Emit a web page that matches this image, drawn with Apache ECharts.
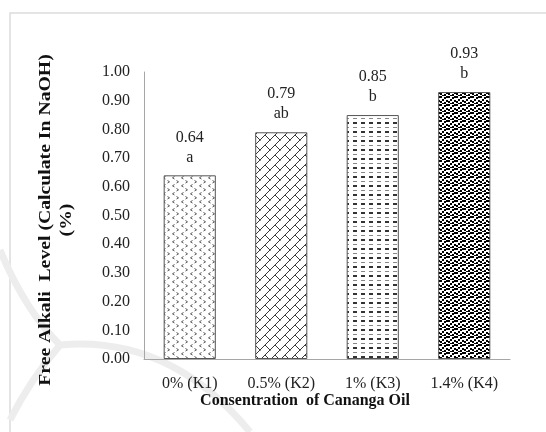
<!DOCTYPE html>
<html>
<head>
<meta charset="utf-8">
<script src="https://cdn.jsdelivr.net/npm/echarts@6/dist/echarts.min.js"></script>
<style>
  html, body { margin: 0; padding: 0; background: #fff; }
  #chart { width: 546px; height: 432px; }
</style>
</head>
<body>
<div id="chart"></div>
<script>
// Free alkali level per Cananga oil concentration
const categories = ['0% (K1)', '0.5% (K2)', '1% (K3)', '1.4% (K4)'];
const values = [0.64, 0.79, 0.85, 0.93];
const letters = ['a', 'ab', 'b', 'b'];
const yTicks = [0, 0.1, 0.2, 0.3, 0.4, 0.5, 0.6, 0.7, 0.8, 0.9, 1.0];

const SERIF = 'Liberation Serif';

// ---- hatch fills for the four bars ----
function tile(w, h, draw) {
  const c = document.createElement('canvas');
  c.width = w; c.height = h;
  const g = c.getContext('2d');
  g.fillStyle = '#fff';
  g.fillRect(0, 0, w, h);
  draw(g);
  return { image: c, repeat: 'repeat' };
}

// small chevrons "<" and ">"
const chevrons = tile(9, 8, g => {
  g.strokeStyle = '#444';
  g.lineWidth = 0.9;
  g.beginPath();
  g.moveTo(3.5, 0.5); g.lineTo(1.5, 1.8); g.lineTo(3.5, 3.0);
  g.moveTo(5.5, 4.5); g.lineTo(7.5, 5.8); g.lineTo(5.5, 7.0);
  g.stroke();
});

// diagonal brick
const brick = tile(10, 10, g => {
  g.strokeStyle = '#222';
  g.lineWidth = 0.9;
  g.beginPath();
  g.moveTo(-1, 11); g.lineTo(11, -1);
  g.moveTo(5, 5); g.lineTo(10.5, 10.5);
  g.moveTo(-0.5, -0.5); g.lineTo(0.5, 0.5);
  g.stroke();
});

// horizontal dashes, alternating heavy and light rows
const dashes = tile(8, 9, g => {
  g.fillStyle = '#888';
  g.fillRect(1, 1, 4, 1);
  g.fillStyle = '#333';
  g.fillRect(1, 5, 4, 2);
});

// dense dots
const dots = tile(8, 8, g => {
  g.fillStyle = '#000';
  const pts = [[0,0],[4,1],[2,3],[6,4],[0,5],[4,6],[6,0],[2,7]];
  pts.forEach(p => g.fillRect(p[0], p[1], 2, 2));
});

const fills = [chevrons, brick, dashes, dots];

const chart = echarts.init(document.getElementById('chart'), null, { renderer: 'canvas' });

chart.setOption({
  animation: false,
  backgroundColor: '#fff',
  grid: { left: 144, right: 36, top: 72, bottom: 73, containLabel: false },
  xAxis: {
    type: 'category',
    data: categories,
    axisLine: { lineStyle: { color: '#a6a6a6', width: 1 } },
    axisTick: { show: false },
    axisLabel: { fontFamily: SERIF, fontSize: 16, color: '#222', margin: 17 }
  },
  yAxis: {
    type: 'value',
    min: 0, max: 1, interval: 0.1,
    axisLine: { show: true, lineStyle: { color: '#a6a6a6', width: 1 } },
    axisTick: { show: false },
    splitLine: { show: false },
    axisLabel: {
      fontFamily: SERIF, fontSize: 16, color: '#222', margin: 14,
      formatter: v => {
        const t = yTicks.find(x => Math.abs(x - v) < 1e-9);
        return (t !== undefined ? t : v).toFixed(2);
      }
    }
  },
  series: [{
    type: 'bar',
    barWidth: '57%',
    data: values.map((v, i) => ({
      value: v,
      itemStyle: { color: fills[i], borderColor: '#555', borderWidth: 1 },
      label: {
        show: true,
        position: 'top',
        distance: 8,
        fontFamily: SERIF,
        fontSize: 16,
        lineHeight: 20,
        color: '#222',
        formatter: () => v.toFixed(2) + '\n' + letters[i]
      }
    }))
  }],
  graphic: [
    // faint frame
    { type: 'polyline', silent: true, z: -10,
      shape: { points: [[10, 432], [10, 13], [546, 13]] },
      style: { stroke: '#dcdcdc', lineWidth: 1.5, fill: null } },
    // faint background arcs
    { type: 'bezierCurve', silent: true, z: -10,
      shape: { x1: 0, y1: 250, cpx1: 25, cpy1: 310, x2: 60, y2: 345 },
      style: { stroke: '#ededed', lineWidth: 7, fill: null } },
    { type: 'bezierCurve', silent: true, z: -10,
      shape: { x1: 60, y1: 345, cpx1: 170, cpy1: 335, x2: 250, y2: 432 },
      style: { stroke: '#ededed', lineWidth: 7, fill: null } },
    { type: 'bezierCurve', silent: true, z: -10,
      shape: { x1: 60, y1: 345, cpx1: 30, cpy1: 380, x2: 10, y2: 420 },
      style: { stroke: '#ededed', lineWidth: 7, fill: null } },
    // y-axis title
    { type: 'text', silent: true,
      x: 56, y: 220, rotation: Math.PI / 2, scaleX: 1.16,
      style: {
        text: 'Free Alkali  Level (Calculate In NaOH)\n(%)',
        fontFamily: SERIF, fontWeight: 'bold', fontSize: 17, lineHeight: 21,
        fill: '#111', align: 'center', verticalAlign: 'middle'
      } },
    // x-axis title
    { type: 'text', silent: true,
      x: 305, y: 401,
      style: {
        text: 'Consentration  of Cananga Oil',
        fontFamily: SERIF, fontWeight: 'bold', fontSize: 16,
        fill: '#111', align: 'center', verticalAlign: 'middle'
      } }
  ]
});
</script>
</body>
</html>
